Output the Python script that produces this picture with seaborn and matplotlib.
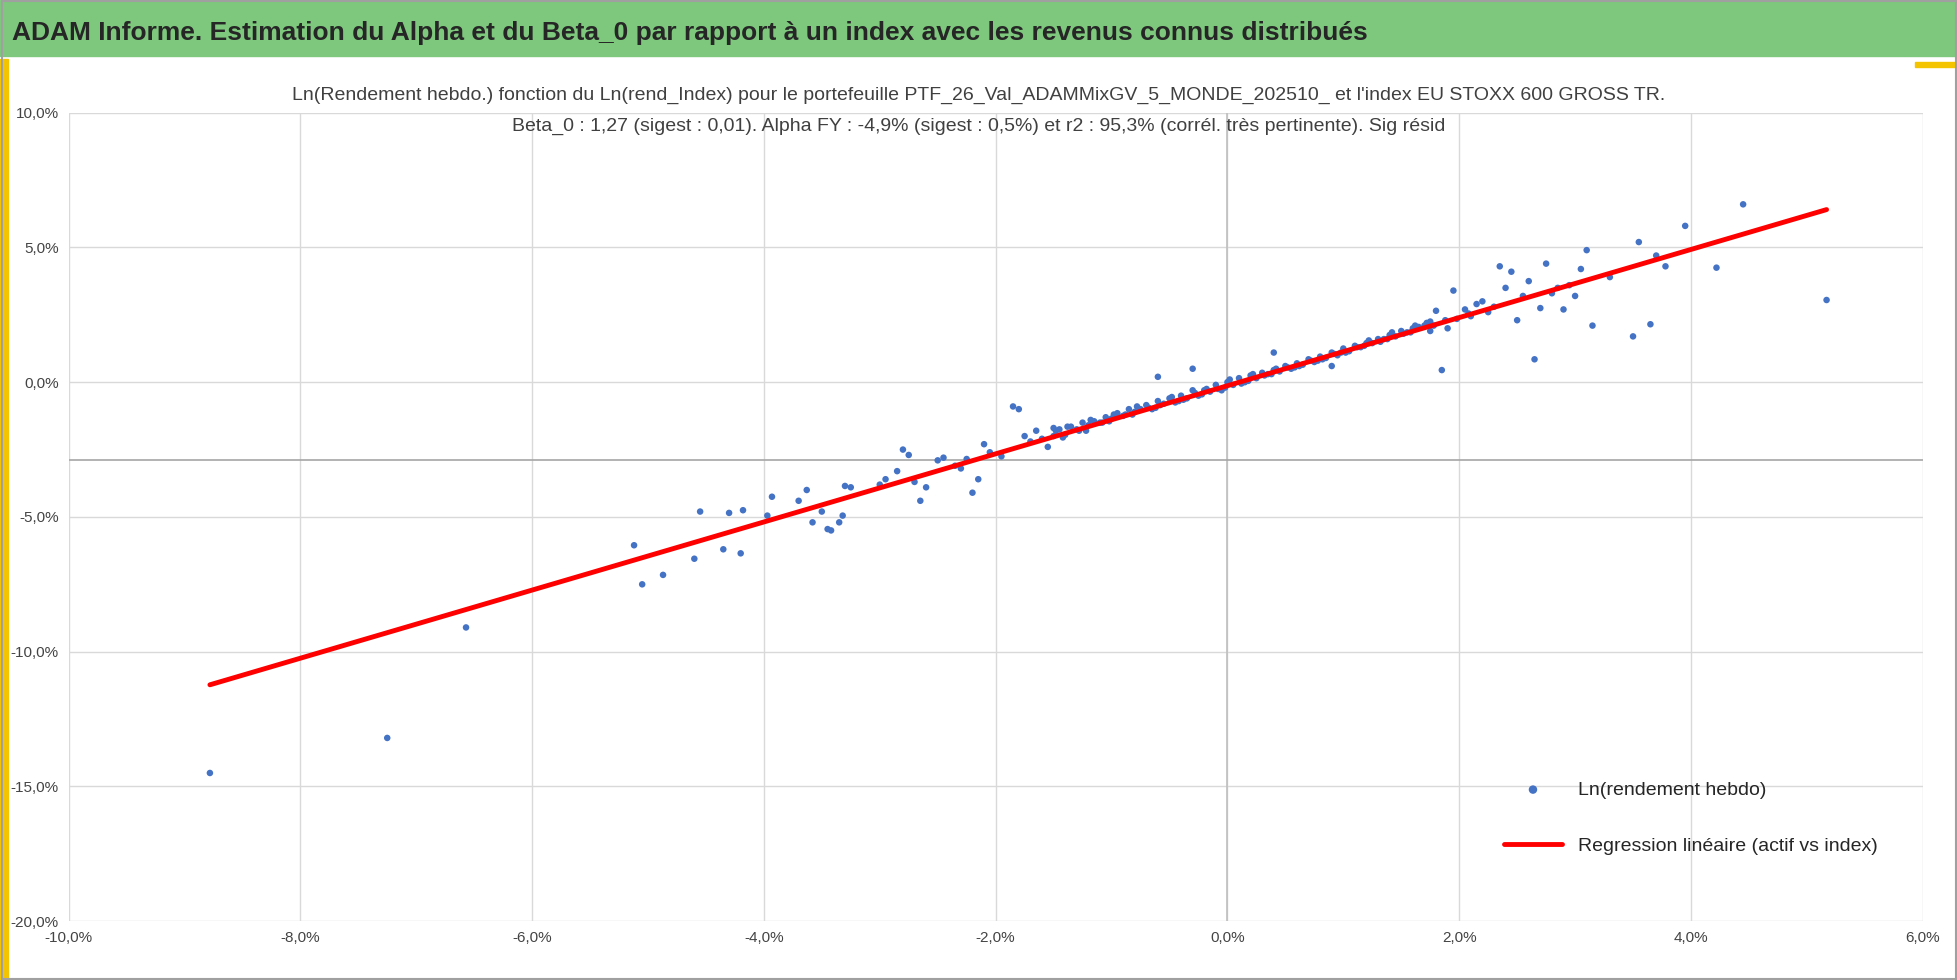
import matplotlib
matplotlib.use("Agg")
import matplotlib.pyplot as plt
import seaborn as sns
import numpy as np
import pandas as pd
from matplotlib.patches import Rectangle
from matplotlib.ticker import FuncFormatter, MultipleLocator

# weekly log returns, in percent (index x, portfolio y)
outlier_x = [-8.78, -7.25, -6.57, -5.12, -5.05, -4.87, -4.6, -4.55, -4.35, -4.3, -4.2, -4.18,
             -3.97, -3.93, -3.7, -3.63, -3.58, -3.5, -3.45, -3.42, -3.35, -3.32, -3.3, -3.25,
             -3.0, -2.95, -2.85, -2.8, -2.75, -2.7, -2.65, -2.6, -2.5, -2.45, -2.35, -2.3,
             -2.25, -2.2, -2.15, -2.1, -2.05, -1.95, -1.85, -1.8, -1.75, -1.7, -1.65, -1.6,
             -1.55, -1.5,
             5.17, 4.45, 4.22, 3.95, 3.78, 3.7, 3.65, 3.55, 3.5, 3.3, 3.15, 3.1, 3.05, 3.0,
             2.95, 2.9, 2.8, 2.75, 2.7, 2.65, 2.6, 2.5, 2.45, 2.4, 2.35, 2.3, 2.2, 2.1, 1.95,
             1.9, 1.85, 1.8, 1.75, 2.05, 2.15, 2.25, 2.55, 2.85, -0.6, -0.3, 0.4, 0.9]
outlier_y = [-14.5, -13.2, -9.1, -6.05, -7.5, -7.15, -6.55, -4.8, -6.2, -4.85, -6.35, -4.75,
             -4.95, -4.25, -4.4, -4.0, -5.2, -4.8, -5.45, -5.5, -5.2, -4.95, -3.85, -3.9,
             -3.8, -3.6, -3.3, -2.5, -2.7, -3.7, -4.4, -3.9, -2.9, -2.8, -3.1, -3.2,
             -2.85, -4.1, -3.6, -2.3, -2.6, -2.75, -0.9, -1.0, -2.0, -2.2, -1.8, -2.1,
             -2.4, -1.7,
             3.05, 6.6, 4.25, 5.8, 4.3, 4.7, 2.15, 5.2, 1.7, 3.9, 2.1, 4.9, 4.2, 3.2,
             3.6, 2.7, 3.3, 4.4, 2.75, 0.85, 3.75, 2.3, 4.1, 3.5, 4.3, 2.8, 3.0, 2.45, 3.4,
             2.0, 0.45, 2.65, 1.9, 2.7, 2.9, 2.6, 3.2, 3.5, 0.2, 0.5, 1.1, 0.6]
band_x = [-1.5, -1.45, -1.4, -1.35, -1.3, -1.25, -1.2, -1.15, -1.1, -1.05, -1.0, -0.95,
          -0.9, -0.85, -0.8, -0.75, -0.7, -0.65, -0.6, -0.55, -0.5, -0.45, -0.4, -0.35,
          -0.3, -0.25, -0.2, -0.15, -0.1, -0.05, 0.0, 0.05, 0.1, 0.15, 0.2, 0.25, 0.3,
          0.35, 0.4, 0.45, 0.5, 0.55, 0.6, 0.65, 0.7, 0.75, 0.8, 0.85, 0.9, 0.95, 1.0,
          1.05, 1.1, 1.15, 1.2, 1.25, 1.3, 1.35, 1.4, 1.45, 1.5, 1.55, 1.6, 1.65, 1.7, 1.75,
          -1.48, -1.38, -1.28, -1.18, -1.08, -0.98, -0.88, -0.78, -0.68, -0.58, -0.48,
          -0.38, -0.28, -0.18, -0.08, 0.02, 0.12, 0.22, 0.32, 0.42, 0.52, 0.62, 0.72,
          0.82, 0.92, 1.02, 1.12, 1.22, 1.32, 1.42, 1.52, 1.62, 1.72,
          -1.42, -1.22, -1.02, -0.82, -0.62, -0.42, -0.22, -0.02, 0.18, 0.38, 0.58,
          0.78, 0.98, 1.18, 1.38, 1.58, 1.78, 1.88, 1.98, 2.08]
band_y = [-2.0, -1.75, -1.95, -1.65, -1.75, -1.5, -1.6, -1.45, -1.5, -1.3, -1.35, -1.15,
          -1.25, -1.0, -1.1, -1.0, -0.85, -1.0, -0.7, -0.8, -0.6, -0.75, -0.5, -0.6,
          -0.3, -0.5, -0.3, -0.35, -0.1, -0.3, 0.0, -0.1, 0.15, 0.0, 0.25, 0.15, 0.35,
          0.3, 0.45, 0.4, 0.6, 0.5, 0.7, 0.65, 0.85, 0.75, 0.95, 0.9, 1.1, 1.0, 1.25,
          1.15, 1.35, 1.3, 1.45, 1.45, 1.6, 1.6, 1.75, 1.7, 1.9, 1.85, 2.0, 2.05, 2.1, 2.25,
          -1.8, -1.65, -1.8, -1.4, -1.5, -1.2, -1.2, -0.9, -0.95, -0.85, -0.55,
          -0.65, -0.4, -0.25, -0.25, 0.1, -0.05, 0.3, 0.25, 0.5, 0.55, 0.6, 0.8,
          0.85, 1.05, 1.1, 1.3, 1.55, 1.5, 1.85, 1.8, 2.1, 2.2,
          -2.05, -1.8, -1.45, -1.2, -0.95, -0.7, -0.45, -0.2, 0.05, 0.3, 0.55,
          0.8, 1.1, 1.35, 1.6, 1.85, 2.1, 2.3, 2.35, 2.55]
beta = 1.264
alpha = -0.13

df = pd.DataFrame({"x": outlier_x + band_x, "y": outlier_y + band_y})
line_x = np.array([df.x.min(), df.x.max()])
line = pd.DataFrame({"x": line_x, "y": alpha + beta * line_x})

sns.set_style("white")
plt.rcParams['font.family'] = ['Liberation Sans', 'DejaVu Sans']

fig = plt.figure(figsize=(19.58, 9.8), dpi=100)
# header band and decorations
fig.patches.append(Rectangle((0, 0.943), 1, 0.057, transform=fig.transFigure, color="#7DC87D", zorder=0))
fig.patches.append(Rectangle((0, 0), 0.004, 0.94, transform=fig.transFigure, color="#F5C400", zorder=0))
fig.patches.append(Rectangle((0.978, 0.932), 0.022, 0.005, transform=fig.transFigure, color="#F5C400", zorder=0))
fig.text(0.006, 0.966, "ADAM Informe. Estimation du Alpha et du Beta_0 par rapport à un index avec les revenus connus distribués",
         fontsize=19, fontweight="bold", va="center", ha="left")

ax = fig.add_axes([0.035, 0.06, 0.947, 0.825])
sns.scatterplot(data=df, x="x", y="y", ax=ax, color="#4472C4", s=22, edgecolor="none",
                label="Ln(rendement hebdo)", zorder=3)
sns.lineplot(data=line, x="x", y="y", ax=ax, color="#FF0000", linewidth=3.5,
             label="Regression linéaire (actif vs index)", zorder=4)

ax.set_xlim(-10, 6)
ax.set_ylim(-20, 10)
ax.xaxis.set_major_locator(MultipleLocator(2))
ax.yaxis.set_major_locator(MultipleLocator(5))
fmt = FuncFormatter(lambda v, p: f"{v:.1f}%".replace(".", ","))
ax.xaxis.set_major_formatter(fmt)
ax.yaxis.set_major_formatter(fmt)
ax.tick_params(labelsize=11, colors="#444444", length=0, pad=7)
ax.grid(True, color="#D9D9D9", linewidth=1)
ax.axvline(0, color="#BFBFBF", linewidth=1.2, zorder=1)
ax.axhline(-2.9, color="#A6A6A6", linewidth=1.2, zorder=1)
ax.set_xlabel("")
ax.set_ylabel("")
for s in ax.spines.values():
    s.set_visible(False)

fig.text(0.5, 0.903, "Ln(Rendement hebdo.) fonction du Ln(rend_Index) pour le portefeuille PTF_26_Val_ADAMMixGV_5_MONDE_202510_ et l'index EU STOXX 600 GROSS TR.",
         ha="center", va="center", fontsize=14, color="#404040")
fig.text(0.5, 0.871, "Beta_0 : 1,27 (sigest : 0,01). Alpha FY : -4,9% (sigest : 0,5%) et r2 : 95,3% (corrél. très pertinente). Sig résid",
         ha="center", va="center", fontsize=14, color="#404040")

leg = ax.legend(loc="lower right", bbox_to_anchor=(0.985, 0.06), frameon=False, fontsize=14,
                labelspacing=2.0, markerscale=1.3, handlelength=3)

fig.patches.append(Rectangle((0.001, 0.001), 0.998, 0.998, transform=fig.transFigure, fill=False,
                             edgecolor="#A0A0A0", linewidth=1.5))
fig.savefig("out.png", dpi=100)
